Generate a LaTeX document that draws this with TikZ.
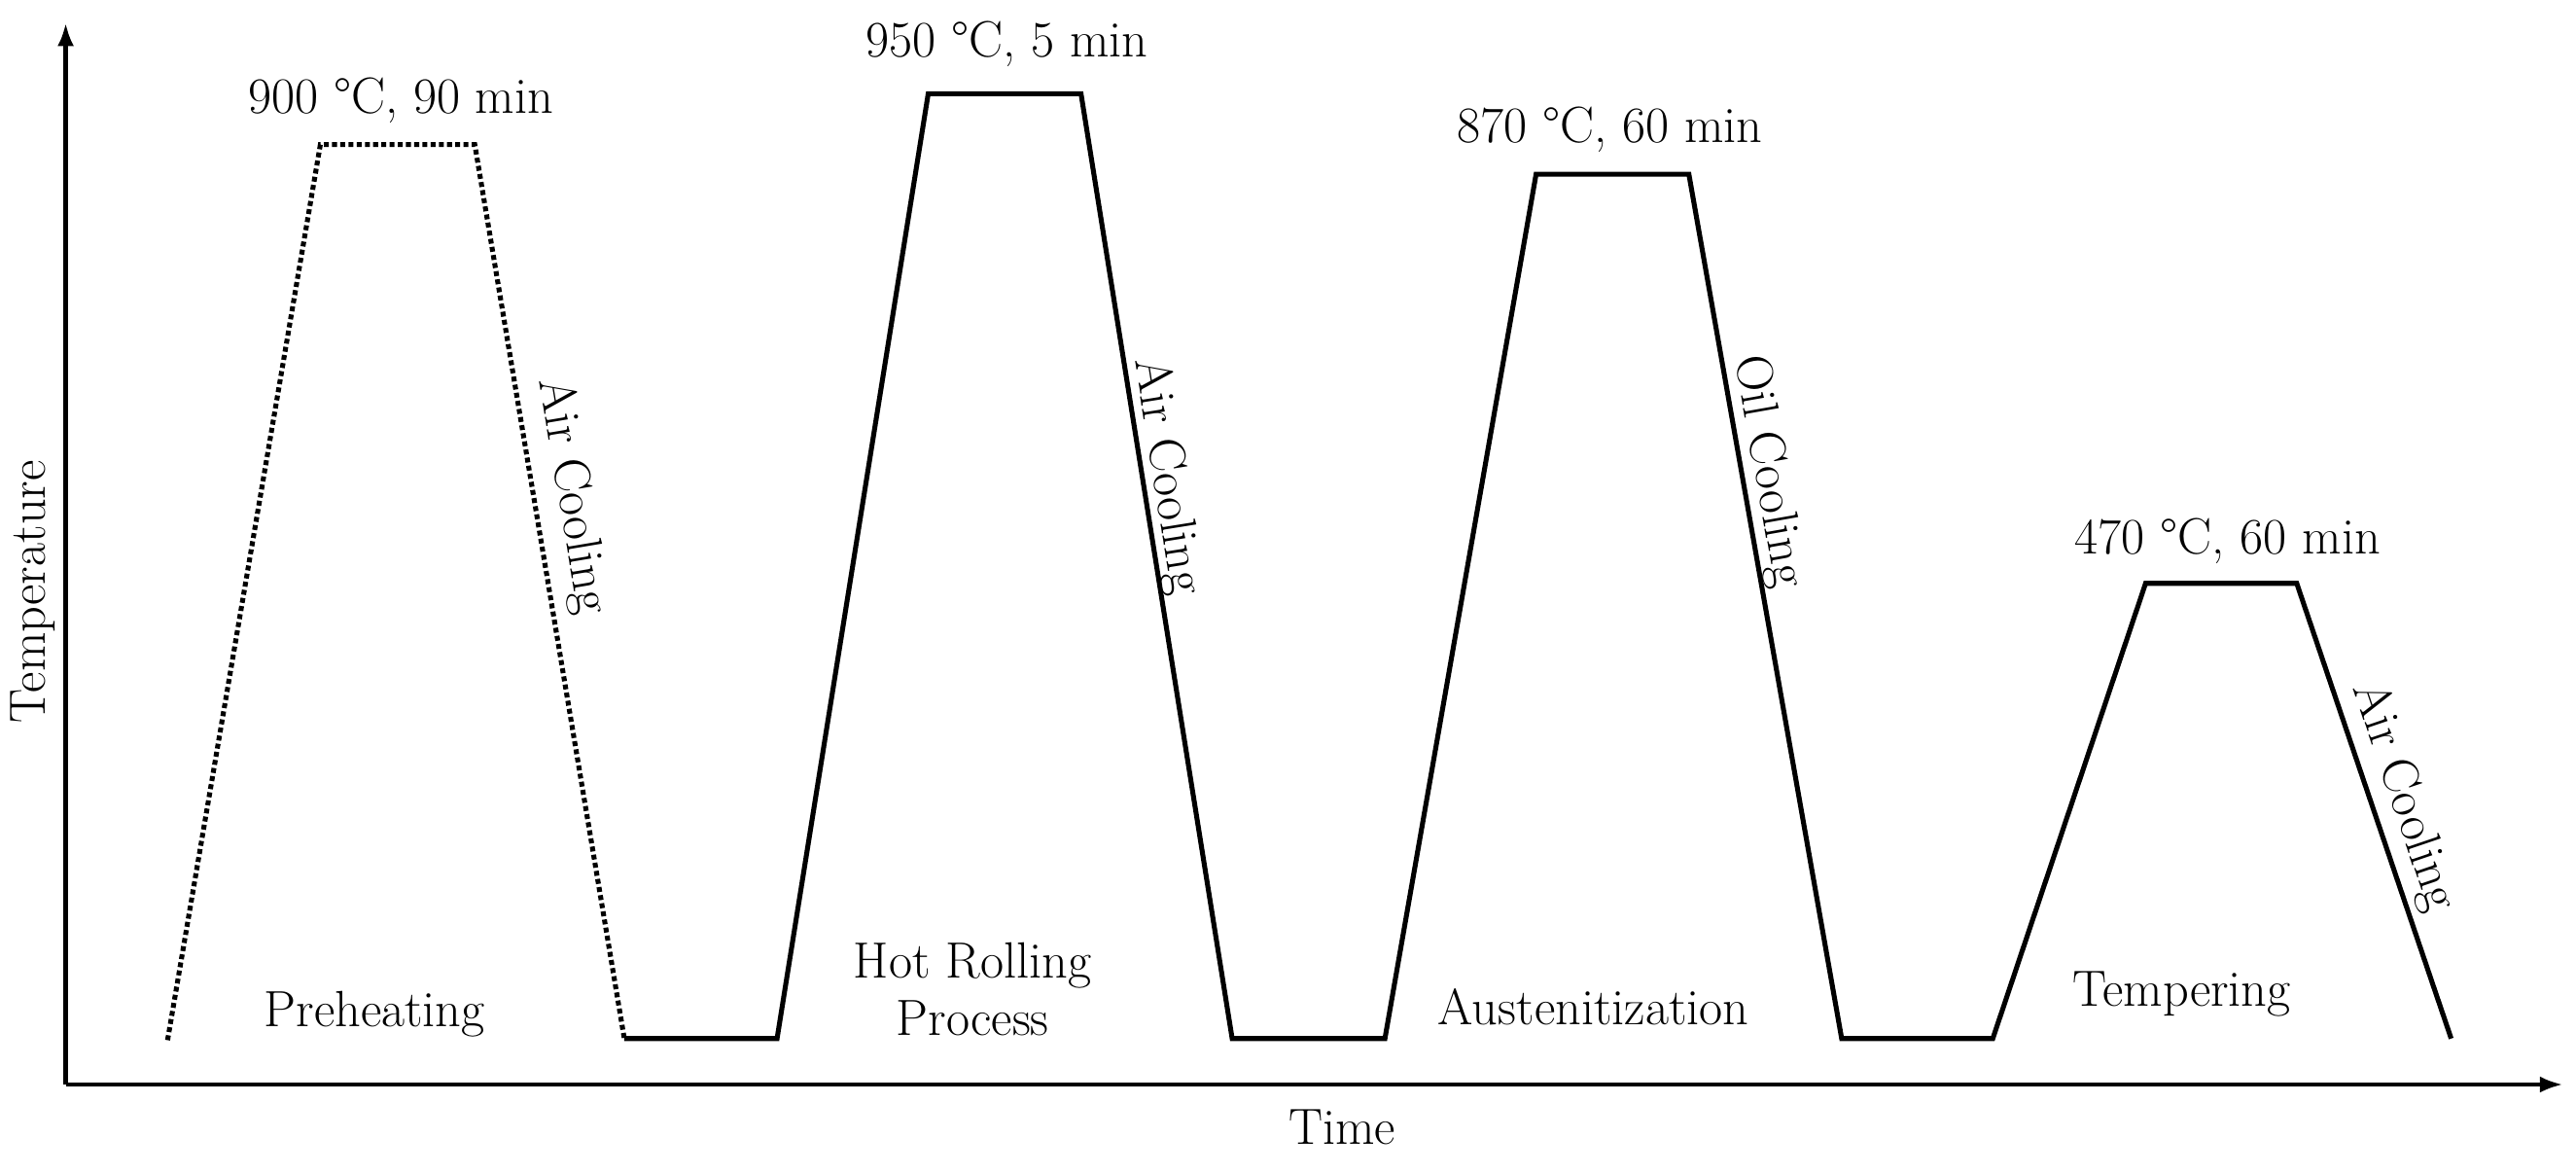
\documentclass[tikz,border=0pt]{standalone}
\usetikzlibrary{arrows.meta}
\begin{document}
\begin{tikzpicture}[x=1pt,y=-1pt,
  lbl/.style={font=\fontsize{31}{35}\selectfont,inner sep=0pt,align=center},
  curve/.style={line width=3pt,line join=miter},
  ax/.style={line width=2.5pt,-{Latex[length=14pt,width=10pt]}}]
\useasboundingbox (0,0) rectangle (1568,714);
\coordinate (o) at (40,660);
\coordinate (ytop) at (40,14);
\coordinate (xend) at (1560,660);
\draw[ax] (o) -- (ytop);
\draw[ax] (o) -- (xend);
\coordinate (p0) at (102,633); \coordinate (p1) at (195,88); \coordinate (p2) at (289,88); \coordinate (p3) at (380,632);
\draw[curve,dotted] (p0) -- (p1) -- (p2) -- (p3);
\draw[curve] (p3) -- (473,632) -- (565,57) -- (658,57) -- (750,632) -- (843,632) -- (935,106) -- (1028,106) -- (1121,632) -- (1213,632) -- (1306,355) -- (1398,355) -- (1492,632);
\node[lbl] (t1) at (244,61) {900 °C, 90 min};
\node[lbl] (t2) at (613,27) {950 °C, 5 min};
\node[lbl] (t3) at (980,79) {870 °C, 60 min};
\node[lbl] (t4) at (1356,329) {470 °C, 60 min};
\node[lbl] (s1) at (228,617) {Preheating};
\node[lbl] (s2) at (592,602) {Hot Rolling\\Process};
\node[lbl] (s3) at (970,613) {Austenitization};
\node[lbl] (s4) at (1328,605) {Tempering};
\node[lbl,rotate=-80.5] (c1) at (348,302) {Air Cooling};
\node[lbl,rotate=-80.9] (c2) at (710,290) {Air Cooling};
\node[lbl,rotate=-80.0] (c3) at (1076,287) {Oil Cooling};
\node[lbl,rotate=-71.3] (c4) at (1463,485) {Air Cooling};
\node[lbl,rotate=90] (ty) at (20,360) {Temperature};
\node[lbl] (tx) at (817,686) {Time};
\end{tikzpicture}
\end{document}
